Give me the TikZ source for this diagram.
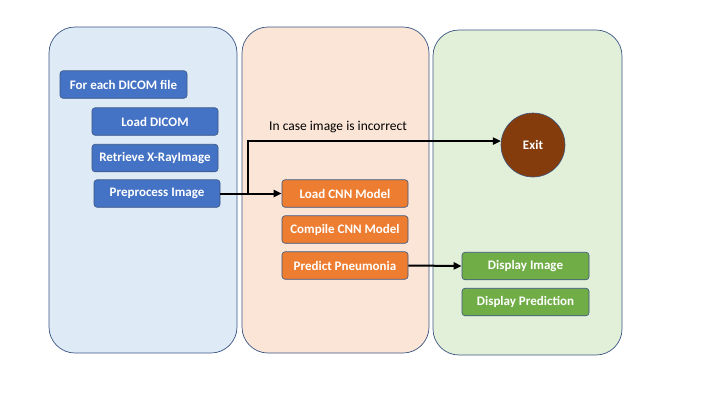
\documentclass[tikz,border=0pt]{standalone}
\usepackage{fontspec}
\setmainfont{Carlito}
\usetikzlibrary{arrows.meta}

\definecolor{paneblue}{HTML}{DEEBF7}
\definecolor{paneorange}{HTML}{FBE5D6}
\definecolor{panegreen}{HTML}{E2F0D9}
\definecolor{paneline}{HTML}{3B5683}
\definecolor{boxblue}{HTML}{4472C4}
\definecolor{boxorange}{HTML}{ED7D31}
\definecolor{boxgreen}{HTML}{70AD47}
\definecolor{exitbrown}{HTML}{843C0C}

\tikzset{
  pane/.style={draw=paneline, line width=0.7pt, rounded corners=26pt},
  stepbox/.style={draw=paneline, line width=0.6pt, rounded corners=3pt, text=white,
    minimum width=126pt, minimum height=27.5pt, inner sep=0pt, font=\fontsize{13}{15}\selectfont\bfseries},
  flow/.style={line width=2pt, black},
  flowarrow/.style={flow, -{Triangle[length=8pt,width=7pt]}}
}

\begin{document}
\begin{tikzpicture}[x=1pt, y=-1pt]
	\useasboundingbox (0,0) rectangle (720,405);
	% lanes
	\draw[pane, fill=paneblue] (49,27) rectangle (237,353);
	\draw[pane, fill=paneorange] (242,27) rectangle (429,353);
	\draw[pane, fill=panegreen] (433,30) rectangle (622,355);
	% reading the files
	\node[stepbox, fill=boxblue, minimum width=127pt] (foreach) at (123.5,84.5) {For each DICOM file};
	\node[stepbox, fill=boxblue] (loaddicom) at (155,121.5) {Load DICOM};
	\node[stepbox, fill=boxblue] (xray) at (155,158) {Retrieve X-RayImage};
	\node[stepbox, fill=boxblue] (prep) at (157,193.5) {Preprocess Image};
	% model
	\node[stepbox, fill=boxorange] (loadcnn) at (345,193.5) {Load CNN Model};
	\node[stepbox, fill=boxorange] (compile) at (345,229.5) {Compile CNN Model};
	\node[stepbox, fill=boxorange] (predict) at (345,265.5) {Predict Pneumonia};
	% output
	\node[draw=paneline, line width=0.6pt, circle, fill=exitbrown, minimum size=64pt, text=white,
	  font=\fontsize{13}{15}\selectfont\bfseries] (exit) at (533,145) {Exit};
	\node[stepbox, fill=boxgreen, minimum width=127pt] (dispimg) at (525.5,266) {Display Image};
	\node[stepbox, fill=boxgreen, minimum width=127pt] (disppred) at (525.5,302) {Display Prediction};
	% connectors
	\coordinate (fork) at (248,193.5);
	\draw[flow] (prep.east) -- (fork);
	\draw[flowarrow] (fork) -- (loadcnn.west);
	\draw[flowarrow] (fork) |- (exit.173);
	\node[font=\fontsize{13.5}{16}\selectfont] (wrong) at (338,127) {In case image is incorrect};
	\draw[flowarrow] (predict.east) -- (dispimg.west);
\end{tikzpicture}
\end{document}
